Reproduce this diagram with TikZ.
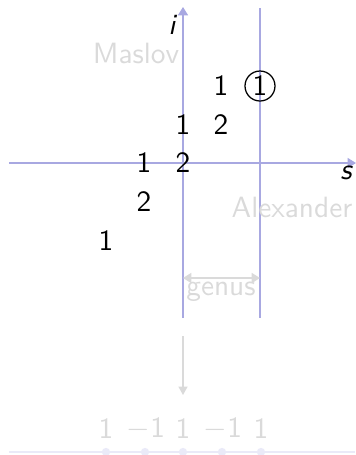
\documentclass[tikz,border=0pt]{standalone}
\usetikzlibrary{arrows.meta}
\definecolor{axisblue}{RGB}{168,168,225}
\definecolor{lightgray}{RGB}{218,218,218}
\definecolor{faintblue}{RGB}{234,234,248}
\begin{document}
\begin{tikzpicture}[x=0.36bp,y=-0.36bp,
  font=\sffamily\fontsize{10.6}{12.7}\selectfont,
  axis/.style={draw=axisblue,line width=0.5bp},
  axtip/.style={-{Triangle[length=3bp,width=3.6bp]}},
  num/.style={inner sep=0pt},
  faint/.style={text=lightgray,inner sep=0pt},
  gtip/.style={{Triangle[length=3bp,width=3.6bp]}-{Triangle[length=3bp,width=3.6bp]}},
]
\useasboundingbox (0,0) rectangle (356,455);
% axes
\coordinate (hl) at (9,163);
\coordinate (hr) at (356,163);
\coordinate (vt) at (183,7);
\coordinate (vb) at (183,318);
\coordinate (wt) at (260,8);
\coordinate (wb) at (260,318);
\draw[axis,axtip] (hl) -- (hr);
\draw[axis,axtip] (vb) -- (vt);
\draw[axis] (wt) -- (wb);
% axis labels
\node[inner sep=0pt] (ilab) at (172,25) {\slshape i};
\node[inner sep=0pt] (slab) at (346,173) {\slshape s};
\node[faint] (maslov) at (136,53) {Maslov};
\node[faint] (alex) at (292,207) {Alexander};
% entries
\node[num] (a1) at (221,86) {1};
\node[num,draw,circle,minimum size=30bp*0.36,inner sep=0pt,line width=0.45bp] (a2) at (260,86) {1};
\node[num] (b1) at (183,125) {1};
\node[num] (b2) at (221,125) {2};
\node[num] (c1) at (144,163) {1};
\node[num] (c2) at (183,163) {2};
\node[num] (d1) at (144,202) {2};
\node[num] (e1) at (106,241) {1};
% genus
\coordinate (gl) at (183,278);
\coordinate (gr) at (260,278);
\draw[draw=lightgray,line width=0.6bp,gtip] (gl) -- (gr);
\node[faint] (genus) at (221,292) {genus};
% map arrow
\coordinate (mt) at (183,336);
\coordinate (mb) at (183,395);
\draw[draw=lightgray,line width=0.5bp,-{Triangle[length=3bp,width=3.2bp]}] (mt) -- (mb);
% bottom row
\coordinate (bl) at (9,452);
\coordinate (br) at (355,452);
\draw[draw=faintblue,line width=0.5bp] (bl) -- (br);
\foreach \x/\n in {106/p1,145/p2,183/p3,222/p4,261/p5}{
  \fill[faintblue] (\x,452) circle (1.5bp);
}
\node[faint] (q1) at (106,429) {1};
\node[faint] (q2) at (146,429) {$-$1};
\node[faint] (q3) at (183,429) {1};
\node[faint] (q4) at (223,429) {$-$1};
\node[faint] (q5) at (261,429) {1};
\end{tikzpicture}
\end{document}
